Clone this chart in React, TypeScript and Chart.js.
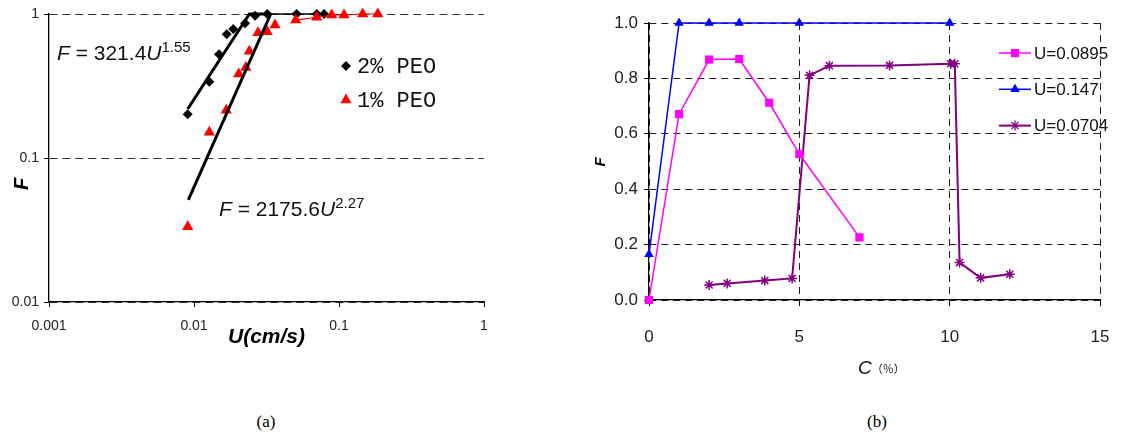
import { useEffect, useRef } from "react";
import { Chart, registerables } from "chart.js";

Chart.register(...registerables);

// ---------- Panel (a): F vs U (log-log) ----------
const U_2PEO = [0.00905, 0.01275, 0.01488, 0.0168, 0.01866, 0.0225, 0.0264, 0.032, 0.051, 0.0702, 0.0789];
const F_2PEO = [0.201, 0.339, 0.525, 0.723, 0.787, 0.862, 0.973, 1, 1, 1, 1];
const U_1PEO = [0.00905, 0.01275, 0.0167, 0.02034, 0.02276, 0.02406, 0.02763, 0.032, 0.0362, 0.0503, 0.0702, 0.0891, 0.1083, 0.1457, 0.185];
const F_1PEO = [0.0333, 0.151, 0.215, 0.383, 0.425, 0.551, 0.74, 0.753, 0.839, 0.908, 0.949, 0.984, 0.984, 1, 1];
const TAIL_START_2PEO = 7; // 2% points joined by a thin line from this index
const TAIL_START_1PEO = 9; // 1% points joined by a thin line from this index
const FIT_2PEO_U = [0.00905, 0.0241, 0.032];
const FIT_2PEO_F = [0.219, 1, 1];
const FIT_1PEO_U = [0.00914, 0.0338];
const FIT_1PEO_F = [0.0512, 1];
const A_X_TICKS = [0.001, 0.01, 0.1, 1];
const A_Y_TICKS = [0.01, 0.1, 1];
const A_LEGEND = ["2% PEO", "1% PEO"];
const EQ_2PEO = { coef: "321.4", exp: "1.55" };
const EQ_1PEO = { coef: "2175.6", exp: "2.27" };

// ---------- Panel (b): F vs C ----------
const C_U0895 = [0, 1, 2, 3, 4, 5, 7];
const F_U0895 = [0.0, 0.671, 0.868, 0.87, 0.712, 0.527, 0.226];
const C_U147 = [0, 1, 2, 3, 5, 10];
const F_U147 = [0.165, 1, 1, 1, 1, 1];
const C_U0704 = [2, 2.6, 3.85, 4.76, 5.34, 6.0, 8.0, 10.03, 10.17, 10.33, 11.03, 12.0];
const F_U0704 = [0.054, 0.06, 0.07, 0.078, 0.811, 0.846, 0.847, 0.853, 0.853, 0.135, 0.08, 0.093];
const B_X_TICKS = [0, 5, 10, 15];
const B_Y_TICKS = [0, 0.2, 0.4, 0.6, 0.8, 1.0];
const B_LABELS = ["U=0.0895", "U=0.147", "U=0.0704"];

const SANS = '"Liberation Sans", Arial, sans-serif';
const MONO = '"Liberation Mono", "Courier New", monospace';

const pts = (xs: number[], ys: number[]) => xs.map((x, i) => ({ x, y: ys[i] }));

function drawMarker(ctx: CanvasRenderingContext2D, style: string, x: number, y: number, r: number, color: string) {
  ctx.save();
  ctx.fillStyle = color;
  ctx.strokeStyle = color;
  ctx.lineWidth = 1.3;
  ctx.beginPath();
  if (style === "rectRot") {
    ctx.moveTo(x, y - r); ctx.lineTo(x + r, y); ctx.lineTo(x, y + r); ctx.lineTo(x - r, y); ctx.closePath(); ctx.fill();
  } else if (style === "triangle") {
    ctx.moveTo(x, y - r);
    ctx.lineTo(x + r * Math.sin(Math.PI / 3), y + r / 2);
    ctx.lineTo(x - r * Math.sin(Math.PI / 3), y + r / 2);
    ctx.closePath(); ctx.fill();
  } else if (style === "rect") {
    const s = r * Math.SQRT1_2;
    ctx.fillRect(x - s, y - s, 2 * s, 2 * s);
  } else if (style === "star") {
    const d = r * Math.SQRT1_2;
    ctx.moveTo(x, y - r); ctx.lineTo(x, y + r);
    ctx.moveTo(x - r, y); ctx.lineTo(x + r, y);
    ctx.moveTo(x - d, y - d); ctx.lineTo(x + d, y + d);
    ctx.moveTo(x - d, y + d); ctx.lineTo(x + d, y - d);
    ctx.stroke();
  }
  ctx.restore();
}

function drawEquation(ctx: CanvasRenderingContext2D, x: number, y: number, coef: string, exp: string) {
  const big = 21, small = 15;
  const parts: [string, string, number][] = [
    ["F", `italic ${big}px ${SANS}`, 0],
    [" = " + coef, `${big}px ${SANS}`, 0],
    ["U", `italic ${big}px ${SANS}`, 0],
    [exp, `${small}px ${SANS}`, -8],
  ];
  ctx.save();
  ctx.fillStyle = "#111";
  ctx.textAlign = "left";
  ctx.textBaseline = "alphabetic";
  let cx = x;
  for (const [t, f, dy] of parts) {
    ctx.font = f;
    ctx.fillText(t, cx, y + dy);
    cx += ctx.measureText(t).width;
  }
  ctx.restore();
}

function ChartA() {
  const ref = useRef<HTMLCanvasElement>(null);
  useEffect(() => {
    const canvas = ref.current!;
    const textPlugin = {
      id: "textA",
      afterDraw(chart: any) {
        const ctx = chart.ctx as CanvasRenderingContext2D;
        ctx.save();
        // y title
        ctx.save();
        ctx.translate(22, 184);
        ctx.rotate(-Math.PI / 2);
        ctx.font = `italic bold 20px ${SANS}`;
        ctx.fillStyle = "#000";
        ctx.textAlign = "center";
        ctx.textBaseline = "middle";
        ctx.fillText("F", 0, 0);
        ctx.restore();
        // x title
        ctx.font = `italic bold 21px ${SANS}`;
        ctx.fillStyle = "#000";
        ctx.textAlign = "center";
        ctx.textBaseline = "alphabetic";
        ctx.fillText("U(cm/s)", (chart.chartArea.left + chart.chartArea.right) / 2, 343);
        // equations
        drawEquation(ctx, 57, 60, EQ_2PEO.coef, EQ_2PEO.exp);
        drawEquation(ctx, 219, 216, EQ_1PEO.coef, EQ_1PEO.exp);
        // legend
        const styles = [["rectRot", "#000", 5], ["triangle", "#ff0000", 6.5]] as const;
        A_LEGEND.forEach((lab, i) => {
          const y = 66 + 34 * i;
          drawMarker(ctx, styles[i][0], 346, y, styles[i][2] as number, styles[i][1]);
          ctx.font = `22px ${MONO}`;
          ctx.fillStyle = "#111";
          ctx.textAlign = "left";
          ctx.textBaseline = "middle";
          ctx.fillText(lab, 357, y + 1);
        });
        ctx.restore();
      },
    };
    const chart = new Chart(canvas, {
      type: "scatter",
      data: {
        datasets: [
          {
            label: "fit 2%",
            data: pts(FIT_2PEO_U, FIT_2PEO_F),
            showLine: true,
            borderColor: "#000",
            borderWidth: 3,
            pointRadius: 0,
            clip: false,
          },
          {
            label: "fit 1%",
            data: pts(FIT_1PEO_U, FIT_1PEO_F),
            showLine: true,
            borderColor: "#000",
            borderWidth: 3,
            pointRadius: 0,
            clip: false,
          },
          {
            label: A_LEGEND[1],
            data: pts(U_1PEO, F_1PEO),
            showLine: true,
            borderWidth: 1.2,
            borderColor: "#ff0000",
            segment: { borderColor: (c: any) => (c.p0DataIndex >= TAIL_START_1PEO ? "#ff0000" : "rgba(0,0,0,0)") },
            pointStyle: "triangle",
            pointRadius: 6.5,
            pointBackgroundColor: "#ff0000",
            pointBorderColor: "#ff0000",
            pointBorderWidth: 0,
            clip: false,
          },
          {
            label: A_LEGEND[0],
            data: pts(U_2PEO, F_2PEO),
            showLine: true,
            borderWidth: 1.3,
            borderColor: "#000",
            segment: { borderColor: (c: any) => (c.p0DataIndex >= TAIL_START_2PEO ? "#000" : "rgba(0,0,0,0)") },
            pointStyle: "rectRot",
            pointRadius: 5,
            pointBackgroundColor: "#000",
            pointBorderColor: "#000",
            pointBorderWidth: 0,
            clip: false,
          },
        ],
      },
      options: {
        animation: false,
        responsive: false,
        devicePixelRatio: 1,
        layout: { padding: { left: 0, top: 14, right: 76, bottom: 0 } },
        plugins: { legend: { display: false }, tooltip: { enabled: false } },
        scales: {
          x: {
            type: "logarithmic",
            min: 0.001,
            max: 1,
            afterBuildTicks: (s: any) => { s.ticks = A_X_TICKS.map((v) => ({ value: v })); },
            afterFit: (s: any) => { s.height = 58; s.paddingLeft = 0; s.paddingRight = 0; },
            ticks: { callback: (v: any) => String(v), font: { family: SANS, size: 14 }, color: "#222", padding: 11, autoSkip: false, maxRotation: 0 },
            grid: { drawOnChartArea: false, drawTicks: true, tickLength: 5, tickColor: "#000" },
            border: { display: true, color: "#000", width: 1.3 },
          },
          y: {
            type: "logarithmic",
            min: 0.01,
            max: 1,
            afterBuildTicks: (s: any) => { s.ticks = A_Y_TICKS.map((v) => ({ value: v })); },
            afterFit: (s: any) => { s.width = 49; },
            ticks: { callback: (v: any) => String(v), font: { family: SANS, size: 14 }, color: "#222", padding: 5, autoSkip: false },
            grid: { drawOnChartArea: true, color: "#333", lineWidth: 1, drawTicks: true, tickLength: 5, tickColor: "#000" },
            border: { display: true, color: "#000", width: 1.3, dash: [8, 5] },
          },
        },
      },
      plugins: [textPlugin],
    } as any);
    return () => chart.destroy();
  }, []);
  return <canvas ref={ref} width={560} height={360} style={{ position: "absolute", left: 0, top: 0, width: 560, height: 360 }} />;
}

function ChartB() {
  const ref = useRef<HTMLCanvasElement>(null);
  useEffect(() => {
    const canvas = ref.current!;
    const styles = [
      { color: "#ff00ff", point: "rect", r: 5.8, w: 1.5 },
      { color: "#0000ff", point: "triangle", r: 5.5, w: 1.5 },
      { color: "#800080", point: "star", r: 5, w: 2 },
    ];
    const textPlugin = {
      id: "textB",
      afterDraw(chart: any) {
        const ctx = chart.ctx as CanvasRenderingContext2D;
        ctx.save();
        ctx.save();
        ctx.translate(41, 162);
        ctx.rotate(-Math.PI / 2);
        ctx.font = `italic bold 15px ${SANS}`;
        ctx.fillStyle = "#000";
        ctx.textAlign = "center";
        ctx.textBaseline = "middle";
        ctx.fillText("F", 0, 0);
        ctx.restore();
        // x title
        ctx.fillStyle = "#111";
        ctx.textAlign = "left";
        ctx.textBaseline = "alphabetic";
        ctx.font = `italic 19px ${SANS}`;
        ctx.fillText("C", 298, 374);
        const cw = ctx.measureText("C").width;
        ctx.font = `11px "Noto Sans CJK SC", ${SANS}`;
        ctx.fillText("（％）", 298 + cw, 373);
        // legend
        B_LABELS.forEach((lab, i) => {
          const y = 53 + 36.3 * i;
          const st = styles[i];
          ctx.strokeStyle = st.color;
          ctx.lineWidth = st.w;
          ctx.beginPath();
          ctx.moveTo(439, y);
          ctx.lineTo(471, y);
          ctx.stroke();
          drawMarker(ctx, st.point, 455, y, st.r, st.color);
          ctx.font = `17px ${SANS}`;
          ctx.fillStyle = "#111";
          ctx.textAlign = "left";
          ctx.textBaseline = "middle";
          ctx.fillText(lab, 474, y + 1);
        });
        ctx.restore();
      },
    };
    const series = [pts(C_U0895, F_U0895), pts(C_U147, F_U147), pts(C_U0704, F_U0704)];
    const chart = new Chart(canvas, {
      type: "scatter",
      data: {
        datasets: series.map((d, i) => ({
          label: B_LABELS[i],
          data: d,
          showLine: true,
          borderColor: styles[i].color,
          borderWidth: styles[i].w,
          pointStyle: styles[i].point,
          pointRadius: styles[i].r,
          pointBackgroundColor: styles[i].color,
          pointBorderColor: styles[i].color,
          pointBorderWidth: styles[i].point === "star" ? 1.5 : 0,
          clip: false,
        })),
      },
      options: {
        animation: false,
        responsive: false,
        devicePixelRatio: 1,
        layout: { padding: { left: 0, top: 23, right: 22, bottom: 0 } },
        plugins: { legend: { display: false }, tooltip: { enabled: false } },
        scales: {
          x: {
            type: "linear",
            min: 0,
            max: 15,
            afterBuildTicks: (s: any) => { s.ticks = B_X_TICKS.map((v) => ({ value: v })); },
            afterFit: (s: any) => { s.height = 100; s.paddingLeft = 0; s.paddingRight = 0; },
            ticks: { font: { family: SANS, size: 17 }, color: "#222", padding: 21, maxRotation: 0, autoSkip: false },
            grid: { drawOnChartArea: true, color: "#222", lineWidth: 1, drawTicks: true, tickLength: 6, tickColor: "#000" },
            border: { display: true, color: "#000", width: 1.3, dash: [7, 5] },
          },
          y: {
            type: "linear",
            min: 0,
            max: 1,
            afterBuildTicks: (s: any) => { s.ticks = B_Y_TICKS.map((v) => ({ value: v })); },
            afterFit: (s: any) => { s.width = 89; },
            ticks: { callback: (v: any) => Number(v).toFixed(1), font: { family: SANS, size: 17 }, color: "#222", padding: 6, autoSkip: false },
            grid: { drawOnChartArea: true, color: "#222", lineWidth: 1, drawTicks: true, tickLength: 5, tickColor: "#000" },
            border: { display: true, color: "#000", width: 1.3, dash: [7, 5] },
          },
        },
      },
      plugins: [textPlugin],
    } as any);
    return () => chart.destroy();
  }, []);
  return <canvas ref={ref} width={562} height={400} style={{ position: "absolute", left: 560, top: 0, width: 562, height: 400 }} />;
}

export default function App() {
  const cap: any = {
    position: "absolute",
    top: 413,
    width: 100,
    textAlign: "center",
    fontFamily: '"Liberation Serif", "Times New Roman", serif',
    fontSize: 17,
    lineHeight: "17px",
    color: "#000",
  };
  return (
    <div style={{ position: "absolute", left: 0, top: 0, width: 1122, height: 437, background: "#fff", overflow: "hidden" }}>
      <ChartA />
      <ChartB />
      <div style={{ ...cap, left: 266 - 50 }}>(a)</div>
      <div style={{ ...cap, left: 877 - 50 }}>(b)</div>
    </div>
  );
}
